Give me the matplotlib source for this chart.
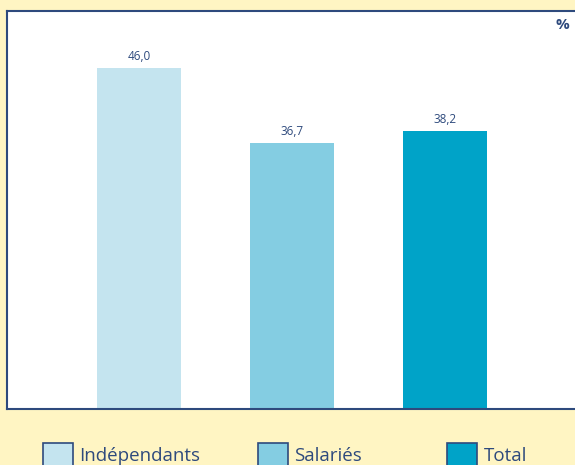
import matplotlib.pyplot as plt
from matplotlib.patches import Patch

categories = ["Indépendants", "Salariés", "Total"]
values = [46.0, 36.7, 38.2]
value_labels = ["46,0", "36,7", "38,2"]
colors = ["#C4E4EF", "#84CDE2", "#00A3C8"]

BG = "#FFF5C3"
DARK = "#2E4A7D"

plt.rcParams['font.family'] = ['Open Sans', 'DejaVu Sans']

fig = plt.figure(figsize=(5.75, 4.65), dpi=100, facecolor=BG)
ax = fig.add_axes([7 / 575, 1 - 409 / 465, 570 / 575, 398 / 465])
ax.set_facecolor("white")

x = list(range(len(categories)))
bars = ax.bar(x, values, width=0.55, color=colors, zorder=2)

for xi, v, lab in zip(x, values, value_labels):
    ax.text(xi, v + 0.6, lab, ha="center", va="bottom", fontsize=8.5, color=DARK)

ax.set_xlim(-0.863, 2.86)
ax.set_ylim(3.7, 53.1)
ax.set_xticks([])
ax.set_yticks([])
for side in ["left", "top", "bottom"]:
    ax.spines[side].set_color(DARK)
    ax.spines[side].set_linewidth(1.5)
ax.spines["right"].set_visible(False)

ax.text(0.987, 0.982, "%", transform=ax.transAxes, ha="right", va="top",
        fontsize=11, fontweight="bold", color=DARK)

# legend, one entry per block
legend_x = [35 / 575, 250 / 575, 439 / 575]
for cat, col, lx in zip(categories, colors, legend_x):
    h = Patch(facecolor=col, edgecolor=DARK, linewidth=1.2)
    fig.legend([h], [cat], loc="lower left", bbox_to_anchor=(lx, -0.02),
               frameon=False, fontsize=13.5, handlelength=1.6, handleheight=1.6,
               handletextpad=0.37, labelcolor=DARK, borderaxespad=0)

fig.savefig("out.png", dpi=100, facecolor=BG)
